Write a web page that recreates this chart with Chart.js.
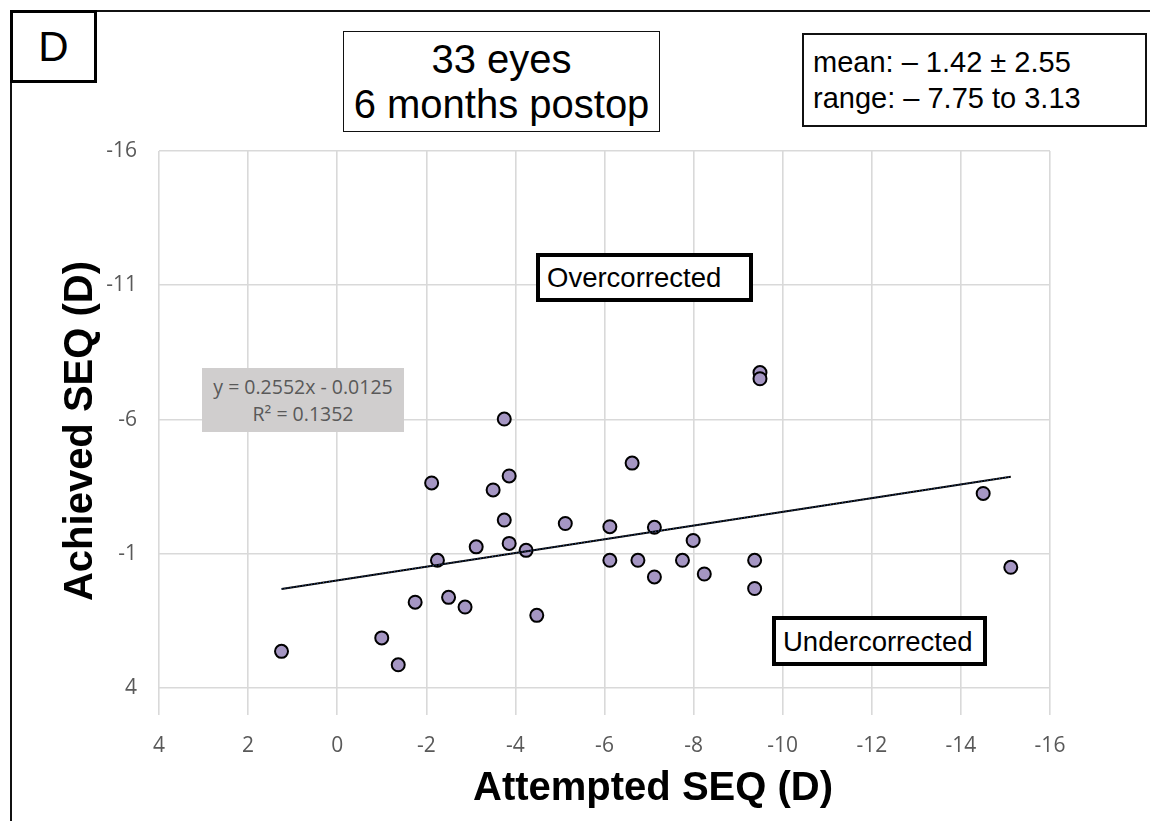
<!DOCTYPE html>
<html lang="en">
<head>
    <meta charset="UTF-8">
    <title>Attempted vs Achieved SEQ</title>
    <script src="https://cdn.jsdelivr.net/npm/chart.js"></script>
    <style>
        body { margin: 0; background: #fff; }
        #wrap { position: relative; width: 1150px; height: 821px; overflow: hidden; font-family: "Liberation Sans", Arial, sans-serif; }
        #chartCanvas { position: absolute; left: 0; top: 0; }
        .box { position: absolute; box-sizing: border-box; background: #fff; }
        .txt { position: absolute; white-space: nowrap; color: #000; line-height: 1; }
        #frame { position: absolute; left: 10px; top: 10px; width: 1200px; height: 900px; border-left: 2px solid #111; border-top: 2px solid #111; }
    </style>
</head>
<body>
<div id="wrap">
    <div id="frame"></div>
    <canvas id="chartCanvas" width="1150" height="821"></canvas>

    <!-- panel letter -->
    <div class="box" style="left:10px;top:10px;width:87px;height:73px;border:3px solid #000;"></div>
    <div class="txt" style="left:10px;width:87px;text-align:center;top:26px;font-size:42px;">D</div>

    <!-- title -->
    <div class="box" style="left:343px;top:31px;width:317px;height:101px;border:1.5px solid #111;"></div>
    <div class="txt" style="left:343px;width:317px;text-align:center;top:39px;font-size:40px;">33 eyes</div>
    <div class="txt" style="left:343px;width:317px;text-align:center;top:84px;font-size:40px;">6 months postop</div>

    <!-- stats -->
    <div class="box" style="left:802px;top:33px;width:345px;height:94px;border:2.5px solid #111;"></div>
    <div class="txt" style="left:813px;top:48px;font-size:29px;">mean: &#8211; 1.42 &#177; 2.55</div>
    <div class="txt" style="left:813px;top:84px;font-size:29px;">range: &#8211; 7.75 to 3.13</div>

    <!-- regression label -->
    <div class="box" style="left:202px;top:368px;width:202px;height:64px;background:#d0cece;"></div>
    <div class="txt" style="left:202px;width:202px;text-align:center;top:377px;font-size:19.5px;color:#595959;font-family:'Open Sans',sans-serif;">y = 0.2552x - 0.0125</div>
    <div class="txt" style="left:202px;width:202px;text-align:center;top:404px;font-size:19.5px;color:#595959;font-family:'Open Sans',sans-serif;">R&#178; = 0.1352</div>

    <!-- zone labels -->
    <div class="box" style="left:536px;top:253px;width:217px;height:49px;border:4px solid #000;"></div>
    <div class="txt" style="left:547px;top:264px;font-size:27.5px;">Overcorrected</div>
    <div class="box" style="left:772px;top:616px;width:215px;height:50px;border:4px solid #000;"></div>
    <div class="txt" style="left:783px;top:628px;font-size:27.5px;">Undercorrected</div>

    <!-- axis titles -->
    <div class="txt" style="left:453px;width:400px;text-align:center;top:766px;font-size:40px;font-weight:bold;">Attempted SEQ (D)</div>
    <div class="txt" style="left:-122px;width:400px;height:40px;line-height:40px;text-align:center;top:411px;font-size:40px;font-weight:bold;transform:rotate(-90deg);">Achieved SEQ (D)</div>
</div>

<script>
    // attempted SEQ (x) and achieved SEQ (y), one entry per eye
    const attempted = [1.25, -1.00, -1.37, -1.75, -2.50, -2.87, -2.12, -2.25, -3.12, -3.50,
                       -3.75, -3.75, -3.86, -3.86, -4.24, -4.48, -5.12, -6.12, -6.12, -6.62,
                       -6.75, -7.12, -7.12, -7.75, -7.99, -8.24, -9.37, -9.37, -9.49, -9.49,
                       -14.50, -15.12];
    const achieved = [2.63, 2.13, 3.13, 0.80, 0.62, 0.98, -3.64, -0.76, -1.26, -3.38,
                      -6.02, -2.26, -3.90, -1.39, -1.13, 1.29, -2.13, -2.01, -0.76, -4.38,
                      -0.76, -1.99, -0.14, -0.76, -1.50, -0.25, -0.76, 0.29, -7.75, -7.52,
                      -3.25, -0.50];

    // linear trend as printed on the chart
    const trendSlope = 0.2552;
    const trendIntercept = -0.0125;

    const xTicks = [4, 2, 0, -2, -4, -6, -8, -10, -12, -14, -16];
    const yTicks = [-16, -11, -6, -1, 4];

    const points = attempted.map((x, i) => ({ x: x, y: achieved[i] }));
    const xLo = Math.max(...attempted);
    const xHi = Math.min(...attempted);
    const trend = [xLo, xHi].map(x => ({ x: x, y: trendSlope * x + trendIntercept }));

    const tickFont = { family: 'Open Sans', size: 21 };
    const gridStyle = { color: '#d9d9d9', lineWidth: 1.6, drawTicks: false };

    new Chart(document.getElementById('chartCanvas').getContext('2d'), {
        type: 'scatter',
        data: {
            datasets: [
                {
                    data: trend,
                    showLine: true,
                    borderColor: '#2f5597',
                    borderWidth: 1,
                    borderDash: [1, 2],
                    pointRadius: 0,
                    order: 0
                },
                {
                    data: trend,
                    showLine: true,
                    borderColor: '#000',
                    borderWidth: 2,
                    pointRadius: 0,
                    order: 1
                },
                {
                    data: points,
                    backgroundColor: '#a596c3',
                    borderColor: '#000',
                    borderWidth: 2,
                    pointRadius: 6.5,
                    order: 2
                }
            ]
        },
        options: {
            responsive: false,
            animation: false,
            layout: { padding: { left: 89, top: 151, right: 100, bottom: 46 } },
            plugins: { legend: { display: false }, tooltip: { enabled: false } },
            scales: {
                x: {
                    type: 'linear',
                    reverse: true,
                    min: -16,
                    max: 4,
                    afterBuildTicks: scale => { scale.ticks = xTicks.map(v => ({ value: v })); },
                    afterFit: scale => { scale.height = 60; },
                    ticks: { color: '#595959', font: tickFont, padding: 18 },
                    grid: gridStyle,
                    border: { display: false }
                },
                y: {
                    type: 'linear',
                    reverse: true,
                    min: -16,
                    max: 5,
                    afterBuildTicks: scale => { scale.ticks = yTicks.map(v => ({ value: v })); },
                    afterFit: scale => { scale.width = 70; },
                    ticks: { color: '#595959', font: tickFont, padding: 22 },
                    grid: gridStyle,
                    border: { display: false }
                }
            }
        }
    });
</script>
</body>
</html>
